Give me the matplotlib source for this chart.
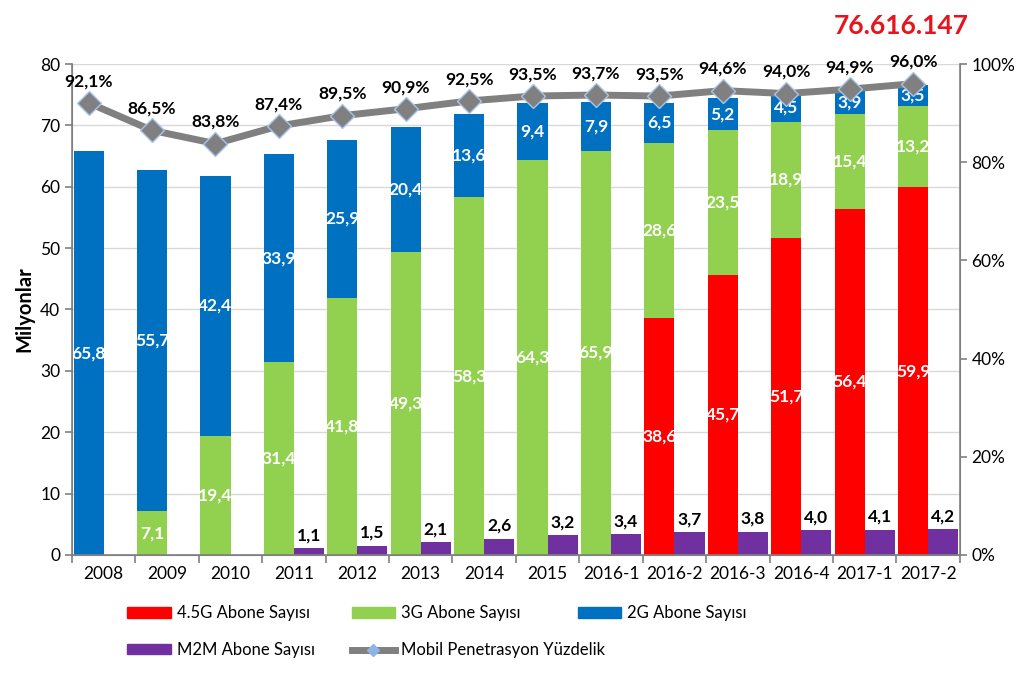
import matplotlib
matplotlib.use("Agg")
import matplotlib.pyplot as plt
import numpy as np
from matplotlib.lines import Line2D
from matplotlib.patches import Patch

plt.rcParams['font.family'] = ['Lato', 'DejaVu Sans']

categories = ["2008", "2009", "2010", "2011", "2012", "2013", "2014", "2015",
              "2016-1", "2016-2", "2016-3", "2016-4", "2017-1", "2017-2"]
g45 = [0, 0, 0, 0, 0, 0, 0, 0, 0, 38.6, 45.7, 51.7, 56.4, 59.9]
g3 = [0, 7.1, 19.4, 31.4, 41.8, 49.3, 58.3, 64.3, 65.9, 28.6, 23.5, 18.9, 15.4, 13.2]
g2 = [65.8, 55.7, 42.4, 33.9, 25.9, 20.4, 13.6, 9.4, 7.9, 6.5, 5.2, 4.5, 3.9, 3.5]
m2m = [0, 0, 0, 1.1, 1.5, 2.1, 2.6, 3.2, 3.4, 3.7, 3.8, 4.0, 4.1, 4.2]
pen = [92.1, 86.5, 83.8, 87.4, 89.5, 90.9, 92.5, 93.5, 93.7, 93.5, 94.6, 94.0, 94.9, 96.0]
total_text = "76.616.147"

RED = "#FF0000"
GREEN = "#92D050"
BLUE = "#0070C0"
PURPLE = "#7030A0"
GRAY = "#808080"

def fmt(v):
    return f"{v:.1f}".replace(".", ",")

fig = plt.figure(figsize=(10.24, 6.75), dpi=100)
ax = fig.add_axes([0.0703, 0.178, 0.867, 0.727])
ax2 = ax.twinx()

x = np.arange(len(categories))
w = 0.475
xm = x - w / 2
xr = x + w / 2

g45a = np.array(g45); g3a = np.array(g3); g2a = np.array(g2)
ax.bar(xm, g45a, w, color=RED, zorder=2)
ax.bar(xm, g3a, w, bottom=g45a, color=GREEN, zorder=2)
ax.bar(xm, g2a, w, bottom=g45a + g3a, color=BLUE, zorder=2)
ax.bar(xr, m2m, w, color=PURPLE, zorder=2)

LS = 12.5
lab_kw = dict(ha="center", va="center", color="white", fontweight="bold", fontsize=LS, zorder=5)
for i in range(len(x)):
    if g45a[i] > 0:
        ax.text(xm[i], g45a[i] / 2, fmt(g45a[i]), **lab_kw)
    if g3a[i] > 0:
        ax.text(xm[i], g45a[i] + g3a[i] / 2, fmt(g3a[i]), **lab_kw)
    if g2a[i] > 0:
        ax.text(xm[i], g45a[i] + g3a[i] + g2a[i] / 2, fmt(g2a[i]), **lab_kw)
    if m2m[i] > 0:
        ax.text(xr[i], m2m[i] + 0.8, fmt(m2m[i]), ha="center", va="bottom",
                color="black", fontweight="bold", fontsize=LS, zorder=5)

ax.set_ylim(0, 80)
ax.set_yticks(np.arange(0, 81, 10))
ax.set_xlim(-0.5, len(x) - 0.5)
ax.set_xticks(x)
ax.set_xticklabels(categories, fontsize=12.5)
ax.tick_params(axis="x", length=0, pad=8)
ax.set_xticks(np.arange(-0.5, len(x), 1), minor=True)
ax.tick_params(axis="x", which="minor", length=6, color=GRAY, width=1.2)
ax.tick_params(axis="y", labelsize=12.5, length=5, color=GRAY, width=1.2)
ax.grid(axis="y", color="#D9D9D9", linewidth=1, zorder=0)
ax.set_axisbelow(True)
ax.set_ylabel("Milyonlar", fontsize=14.5, fontweight="bold", labelpad=4)
for s in ["top"]:
    ax.spines[s].set_visible(False)
    ax2.spines[s].set_visible(False)
for s in ["left", "bottom", "right"]:
    ax.spines[s].set_color(GRAY)
    ax2.spines[s].set_color(GRAY)
    ax2.spines[s].set_linewidth(1.2)

ax2.plot(xm, pen, color=GRAY, linewidth=5, marker="D", markersize=12,
         markerfacecolor=GRAY, markeredgecolor="#A9C4E8", markeredgewidth=1, zorder=6)
for i in range(len(x)):
    ax2.text(xm[i], pen[i] + 2.8, fmt(pen[i]) + "%", ha="center", va="bottom",
             fontweight="bold", fontsize=LS, color="black", zorder=7)
ax2.set_ylim(0, 100)
ax2.set_yticks(np.arange(0, 101, 20))
ax2.set_yticklabels([f"{v}%" for v in range(0, 101, 20)])
ax2.tick_params(axis="y", labelsize=12.5, length=5, color=GRAY, width=1.2)
ax2.set_zorder(ax.get_zorder() + 1)
ax2.patch.set_visible(False)

fig.text(0.88, 0.962, total_text, color="#E8141B", fontsize=19, fontweight="bold",
         ha="center", va="center")

line_handle = Line2D([], [], color=GRAY, linewidth=5, marker="D", markersize=6,
                     markerfacecolor="#8EB4E3", markeredgecolor="#8EB4E3")
cols = [([Patch(color=RED), Patch(color=PURPLE)], ["4.5G Abone Sayısı", "M2M Abone Sayısı"], 0.118),
        ([Patch(color=GREEN), line_handle], ["3G Abone Sayısı", "Mobil Penetrasyon Yüzdelik"], 0.337),
        ([Patch(color=BLUE)], ["2G Abone Sayısı"], 0.558)]
for hs, ls, xpos in cols:
    fig.legend(hs, ls, ncol=1, loc="upper left", bbox_to_anchor=(xpos, 0.113),
               frameon=False, fontsize=12, handlelength=2.6, handleheight=0.55,
               labelspacing=1.25, handletextpad=0.35, borderaxespad=0)

fig.savefig("out.png", dpi=100)
